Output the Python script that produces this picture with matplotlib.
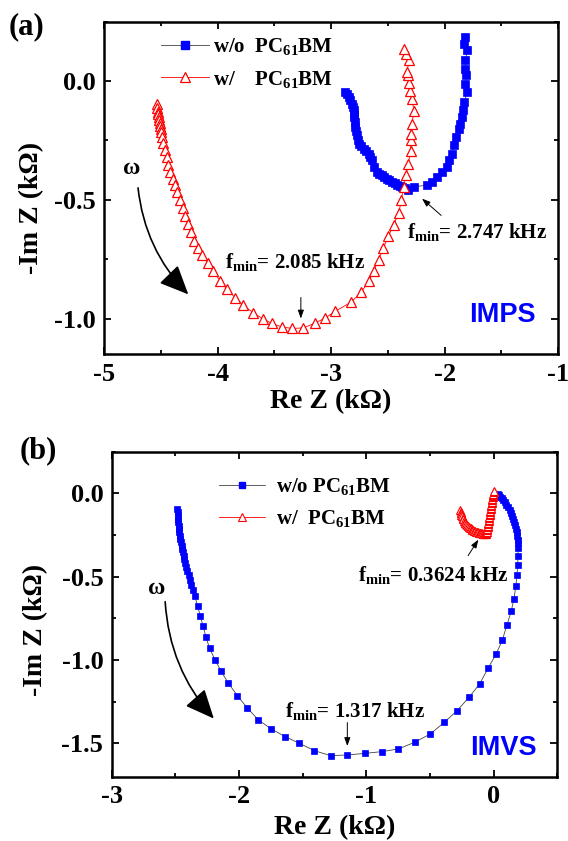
import matplotlib
matplotlib.use("Agg")
import matplotlib.pyplot as plt
from matplotlib.ticker import MultipleLocator, FormatStrFormatter
from matplotlib.lines import Line2D

plt.rcParams['font.family'] = ['Liberation Serif', 'DejaVu Serif']
plt.rcParams['font.weight'] = 'bold'
plt.rcParams['axes.unicode_minus'] = False
plt.rcParams['mathtext.fontset'] = 'custom'
plt.rcParams['mathtext.rm'] = 'Liberation Serif:bold'
plt.rcParams['mathtext.it'] = 'Liberation Serif:bold'
plt.rcParams['mathtext.bf'] = 'Liberation Serif:bold'

# (a) IMPS, w/o PC61BM
a_wo_re = [-2.876, -2.861, -2.846, -2.832, -2.817, -2.809, -2.802, -2.799, -2.796, -2.792,
           -2.787, -2.780, -2.772, -2.765, -2.758, -2.736, -2.714, -2.692, -2.670, -2.655,
           -2.640, -2.626, -2.596, -2.574, -2.552, -2.530, -2.508, -2.486, -2.463, -2.441,
           -2.419, -2.397, -2.375, -2.350, -2.326, -2.273, -2.155, -2.110, -2.066, -2.022,
           -1.978, -1.964, -1.934, -1.914, -1.896, -1.876, -1.861, -1.846, -1.837, -1.825,
           -1.801, -1.816, -1.807, -1.816, -1.816, -1.801, -1.825, -1.823]
a_wo_im = [-0.046, -0.055, -0.067, -0.080, -0.095, -0.109, -0.123, -0.137, -0.151, -0.172,
           -0.193, -0.210, -0.228, -0.246, -0.263, -0.274, -0.284, -0.294, -0.305, -0.319,
           -0.333, -0.361, -0.382, -0.389, -0.396, -0.403, -0.410, -0.417, -0.424, -0.431,
           -0.438, -0.442, -0.445, -0.452, -0.459, -0.445, -0.438, -0.424, -0.403, -0.382,
           -0.361, -0.333, -0.305, -0.270, -0.235, -0.200, -0.179, -0.151, -0.123, -0.088,
           -0.046, -0.011, 0.024, 0.052, 0.087, 0.129, 0.157, 0.185]

# (a) IMPS, w/ PC61BM
a_w_re = [-4.538, -4.531, -4.527, -4.524, -4.520, -4.516, -4.512, -4.508, -4.503, -4.499,
          -4.492, -4.482, -4.466, -4.450, -4.435, -4.418, -4.398, -4.377, -4.356, -4.332,
          -4.308, -4.285, -4.259, -4.234, -4.206, -4.176, -4.140, -4.085, -4.038, -3.979,
          -3.920, -3.846, -3.773, -3.687, -3.602, -3.523, -3.434, -3.341, -3.244, -3.140,
          -3.052, -2.964, -2.823, -2.734, -2.670, -2.626, -2.582, -2.540, -2.496, -2.450,
          -2.405, -2.381, -2.361, -2.340, -2.320, -2.299, -2.299, -2.299, -2.290, -2.267,
          -2.290, -2.305, -2.314, -2.326, -2.334, -2.311, -2.340, -2.355]
a_w_im = [-0.098, -0.115, -0.128, -0.140, -0.152, -0.164, -0.176, -0.188, -0.200, -0.214,
          -0.235, -0.262, -0.290, -0.319, -0.352, -0.382, -0.410, -0.438, -0.467, -0.500,
          -0.534, -0.568, -0.602, -0.637, -0.672, -0.703, -0.730, -0.766, -0.801, -0.840,
          -0.876, -0.911, -0.944, -0.975, -1.000, -1.020, -1.035, -1.041, -1.039, -1.018,
          -0.997, -0.969, -0.930, -0.888, -0.843, -0.800, -0.752, -0.703, -0.654, -0.605,
          -0.557, -0.501, -0.445, -0.396, -0.347, -0.294, -0.249, -0.221, -0.179, -0.127,
          -0.077, -0.042, -0.008, 0.024, 0.038, 0.087, 0.115, 0.136]

# (b) IMVS, w/o PC61BM
b_wo_re = [-2.483, -2.482, -2.481, -2.479, -2.477, -2.474, -2.471, -2.468, -2.464, -2.460,
           -2.455, -2.450, -2.445, -2.440, -2.434, -2.428, -2.421, -2.414, -2.405, -2.396,
           -2.386, -2.375, -2.362, -2.348, -2.325, -2.305, -2.283, -2.260, -2.231, -2.189,
           -2.140, -2.083, -2.012, -1.935, -1.847, -1.750, -1.636, -1.525, -1.408, -1.280,
           -1.151, -1.008, -0.880, -0.749, -0.620, -0.498, -0.387, -0.287, -0.193, -0.110,
           -0.044, 0.020, 0.068, 0.104, 0.139, 0.160, 0.175, 0.184, 0.189, 0.192,
           0.192, 0.191, 0.189, 0.186, 0.182, 0.177, 0.171, 0.164, 0.156, 0.147,
           0.137, 0.126, 0.114, 0.101, 0.088, 0.075, 0.062, 0.050, 0.040, 0.031]
b_wo_im = [-0.095, -0.115, -0.135, -0.155, -0.175, -0.195, -0.215, -0.235, -0.255, -0.275,
           -0.295, -0.315, -0.335, -0.355, -0.375, -0.395, -0.418, -0.441, -0.466, -0.492,
           -0.520, -0.550, -0.582, -0.616, -0.674, -0.734, -0.794, -0.860, -0.930, -0.998,
           -1.068, -1.140, -1.214, -1.288, -1.360, -1.412, -1.460, -1.500, -1.544, -1.574,
           -1.570, -1.560, -1.550, -1.534, -1.494, -1.444, -1.374, -1.304, -1.224, -1.144,
           -1.050, -0.964, -0.882, -0.792, -0.705, -0.632, -0.554, -0.490, -0.430, -0.375,
           -0.330, -0.300, -0.278, -0.256, -0.234, -0.213, -0.193, -0.173, -0.154, -0.135,
           -0.117, -0.100, -0.084, -0.069, -0.055, -0.042, -0.030, -0.020, -0.012, -0.007]

# (b) IMVS, w/ PC61BM (dense band)
b_w_re = [-0.262, -0.260, -0.257, -0.253, -0.249, -0.244, -0.239, -0.233, -0.227, -0.221,
          -0.215, -0.208, -0.201, -0.194, -0.187, -0.180, -0.173, -0.166, -0.159, -0.152,
          -0.145, -0.138, -0.131, -0.124, -0.117, -0.110, -0.104, -0.098, -0.092, -0.086,
          -0.080, -0.075, -0.070, -0.065, -0.060,
          -0.056, -0.053, -0.051, -0.049, -0.047, -0.045, -0.043, -0.041, -0.039, -0.037,
          -0.035, -0.033, -0.031, -0.029, -0.027, -0.025, -0.023, -0.021, -0.019, -0.017,
          -0.015, -0.013, -0.011, -0.009, -0.007, -0.005, -0.003, -0.001, 0.001, 0.002]
b_w_im = [-0.100, -0.110, -0.120, -0.130, -0.139, -0.148, -0.157, -0.165, -0.172, -0.179,
          -0.186, -0.192, -0.197, -0.202, -0.207, -0.211, -0.215, -0.219, -0.222, -0.225,
          -0.228, -0.230, -0.232, -0.234, -0.236, -0.238, -0.239, -0.240, -0.241, -0.242,
          -0.243, -0.244, -0.244, -0.244, -0.243,
          -0.238, -0.230, -0.221, -0.212, -0.203, -0.194, -0.185, -0.176, -0.167, -0.158,
          -0.149, -0.140, -0.131, -0.122, -0.113, -0.104, -0.095, -0.086, -0.077, -0.068,
          -0.059, -0.050, -0.041, -0.033, -0.025, -0.017, -0.009, -0.002, 0.005, 0.012]

TICK_FS = 19
LABEL_FS = 20
LEG_FS = 15


def style_axes(ax, xmaj, ymaj):
    for s in ax.spines.values():
        s.set_linewidth(1.8)
    ax.xaxis.set_major_locator(MultipleLocator(xmaj))
    ax.xaxis.set_minor_locator(MultipleLocator(xmaj / 2))
    ax.yaxis.set_major_locator(MultipleLocator(ymaj))
    ax.yaxis.set_minor_locator(MultipleLocator(ymaj / 2))
    ax.yaxis.set_major_formatter(FormatStrFormatter('%.1f'))
    ax.xaxis.set_major_formatter(FormatStrFormatter('%d'))
    ax.tick_params(which='both', direction='in', top=True, right=True, width=1.3,
                   labelsize=TICK_FS)
    ax.tick_params(which='major', length=5, pad=6)
    ax.tick_params(which='minor', length=3)
    for lab in ax.get_xticklabels() + ax.get_yticklabels():
        lab.set_fontweight('bold')


fig = plt.figure(figsize=(5.68, 8.41), dpi=100)

# ---------------- (a) IMPS ----------------
ax1 = fig.add_axes([0.1836, 0.5787, 0.7988, 0.3955])
ax1.plot(a_wo_re, a_wo_im, color='#444444', lw=0.6, marker='s', ms=6,
         mfc='blue', mec='blue', mew=0.5)
ax1.plot(a_w_re, a_w_im, color='red', lw=0.6, marker='^', ms=6.6,
         mfc='white', mec='red', mew=0.9)
ax1.set_xlim(-5, -1)
ax1.set_ylim(-1.15, 0.25)
style_axes(ax1, 1.0, 0.5)
ax1.set_xlabel('Re Z (kΩ)', fontsize=LABEL_FS, fontweight='bold')
ax1.set_ylabel('-Im Z (kΩ)', fontsize=LABEL_FS, fontweight='bold')
ax1.xaxis.set_label_coords(0.5, -0.104)
ax1.yaxis.set_label_coords(-0.133, 0.44)

h1 = [Line2D([], [], color='#444444', lw=0.6, marker='s', ms=6, mfc='blue', mec='blue'),
      Line2D([], [], color='red', lw=0.6, marker='^', ms=6.6, mfc='white', mec='red', mew=0.9)]
ax1.legend(h1, ['w/o  PC$_{61}$BM', 'w/    PC$_{61}$BM'], loc='upper left',
           bbox_to_anchor=(0.125, 0.956), frameon=False,
           handlelength=2.3, handletextpad=0.2, borderpad=0, borderaxespad=0,
           labelspacing=0.55, prop={'weight': 'bold', 'size': LEG_FS})

ax1.text(-4.755, -0.368, 'ω', fontsize=17, fontweight='bold', ha='center', va='center')
ax1.annotate('', xy=(-4.242, -0.906), xytext=(-4.705, -0.438),
             arrowprops=dict(arrowstyle='-|>,head_length=0.9,head_width=0.4', color='k',
                             lw=1.2, mutation_scale=20, connectionstyle='arc3,rad=0.18'))
ax1.text(-3.317, -0.76, 'f$_{\\rm min}$= 2.085 kHz', fontsize=LEG_FS, fontweight='bold',
         ha='center', va='center')
ax1.annotate('', xy=(-3.267, -1.011), xytext=(-3.267, -0.899),
             arrowprops=dict(arrowstyle='-|>,head_length=0.5,head_width=0.18', color='k',
                             lw=0.7, mutation_scale=10))
ax1.text(-1.71, -0.635, 'f$_{\\rm min}$= 2.747 kHz', fontsize=LEG_FS, fontweight='bold',
         ha='center', va='center')
ax1.annotate('', xy=(-2.217, -0.487), xytext=(-2.012, -0.573),
             arrowprops=dict(arrowstyle='-|>,head_length=0.5,head_width=0.18', color='k',
                             lw=0.7, mutation_scale=10))
ax1.text(-1.494, -0.983, 'IMPS', fontsize=19.5, fontweight='bold', color='blue',
         family='Liberation Sans', ha='center', va='center')
fig.text(26 / 568, 1 - 27 / 841, '(a)', fontsize=22, fontweight='bold',
         ha='center', va='center')

# ---------------- (b) IMVS ----------------
ax2 = fig.add_axes([0.1966, 0.0765, 0.7845, 0.3865])
ax2.plot(b_wo_re, b_wo_im, color='#444444', lw=0.6, marker='s', ms=4.8,
         mfc='blue', mec='blue', mew=0.5)
ax2.plot(b_w_re, b_w_im, color='red', lw=0.6, marker='^', ms=5.8,
         mfc='white', mec='red', mew=0.8)
ax2.set_xlim(-3, 0.5)
ax2.set_ylim(-1.7, 0.25)
style_axes(ax2, 1.0, 0.5)
ax2.set_xlabel('Re Z (kΩ)', fontsize=LABEL_FS, fontweight='bold')
ax2.set_ylabel('-Im Z (kΩ)', fontsize=LABEL_FS, fontweight='bold')
ax2.xaxis.set_label_coords(0.5, -0.119)
ax2.yaxis.set_label_coords(-0.143, 0.451)

h2 = [Line2D([], [], color='#444444', lw=0.6, marker='s', ms=4.8, mfc='blue', mec='blue'),
      Line2D([], [], color='red', lw=0.6, marker='^', ms=5.8, mfc='white', mec='red', mew=0.8)]
ax2.legend(h2, ['w/o PC$_{61}$BM', 'w/  PC$_{61}$BM'], loc='upper left',
           bbox_to_anchor=(0.241, 0.925), frameon=False,
           handlelength=2.2, handletextpad=0.55, borderpad=0, borderaxespad=0,
           labelspacing=0.55, prop={'weight': 'bold', 'size': LEG_FS})

ax2.text(-2.647, -0.574, 'ω', fontsize=17, fontweight='bold', ha='center', va='center')
ax2.annotate('', xy=(-2.183, -1.364), xytext=(-2.581, -0.634),
             arrowprops=dict(arrowstyle='-|>,head_length=0.9,head_width=0.4', color='k',
                             lw=1.2, mutation_scale=20, connectionstyle='arc3,rad=0.18'))
ax2.text(-1.086, -1.304, 'f$_{\\rm min}$= 1.317 kHz', fontsize=LEG_FS, fontweight='bold',
         ha='center', va='center')
ax2.annotate('', xy=(-1.149, -1.533), xytext=(-1.149, -1.359),
             arrowprops=dict(arrowstyle='-|>,head_length=0.5,head_width=0.18', color='k',
                             lw=0.7, mutation_scale=10))
ax2.text(-0.474, -0.488, 'f$_{\\rm min}$= 0.3624 kHz', fontsize=LEG_FS, fontweight='bold',
         ha='center', va='center')
ax2.annotate('', xy=(-0.108, -0.264), xytext=(-0.212, -0.388),
             arrowprops=dict(arrowstyle='-|>,head_length=0.5,head_width=0.18', color='k',
                             lw=0.7, mutation_scale=10))
ax2.text(0.075, -1.53, 'IMVS', fontsize=19.5, fontweight='bold', color='blue',
         family='Liberation Sans', ha='center', va='center')
fig.text(38 / 568, 1 - 451 / 841, '(b)', fontsize=22, fontweight='bold',
         ha='center', va='center')

fig.savefig('out.png', dpi=100)
